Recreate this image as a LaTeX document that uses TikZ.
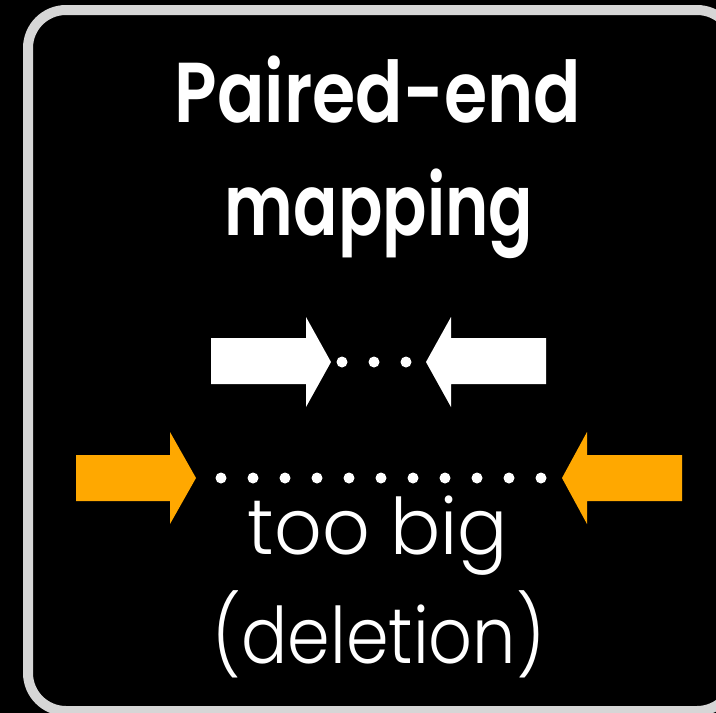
\documentclass[tikz,border=0pt]{standalone}
\usepackage{fontspec}
\setmainfont{Poppins}[UprightFont=* Light, BoldFont=* SemiBold]
\definecolor{frame}{RGB}{214,214,214}
\definecolor{amber}{RGB}{255,168,0}
\begin{document}
\begin{tikzpicture}[x=1pt,y=-1pt,
  title/.style={text=white,font=\fontsize{85}{100}\selectfont\bfseries,anchor=base,inner sep=0},
  label/.style={text=white,font=\fontsize{78}{94}\selectfont,anchor=base,inner sep=0},
  whitearrow/.style={fill=white},
  amberarrow/.style={fill=amber},
  dot/.style={fill=white}]
\fill[black] (0,0) rectangle (716,713);
\useasboundingbox (0,0) rectangle (716,713);
\draw[frame,line width=10pt,rounded corners=38pt] (28,10) rectangle (735,711);
\node[title] (t1) at (378,122) {\resizebox{406pt}{\height}{Paired-end}};
\node[title] (t2) at (379,235) {\resizebox{308pt}{\height}{mapping}};
\node[label] (l1) at (378,554) {\resizebox{260pt}{\height}{too big}};
\node[label] (l2) at (379,663) {\resizebox{332pt}{\height}{(deletion)}};
% white arrows
\fill[whitearrow] (211,338) -- (306,338) -- (306,317) -- (331,362) -- (306,407) -- (306,384) -- (211,384) -- cycle;
\fill[whitearrow] (546,338) -- (451,338) -- (451,317) -- (426,362) -- (451,407) -- (451,384) -- (546,384) -- cycle;
\foreach \x in {342,374,406} \fill[dot] (\x,362) circle (5.5pt);
% amber arrows
\fill[amberarrow] (76,455) -- (170,455) -- (170,432) -- (196,478) -- (170,524) -- (170,501) -- (76,501) -- cycle;
\fill[amberarrow] (682,455) -- (587,455) -- (587,432) -- (562,478) -- (587,524) -- (587,501) -- (682,501) -- cycle;
\foreach \k in {0,...,10} \fill[dot] (221+32*\k,478) circle (5.5pt);
\end{tikzpicture}
\end{document}
